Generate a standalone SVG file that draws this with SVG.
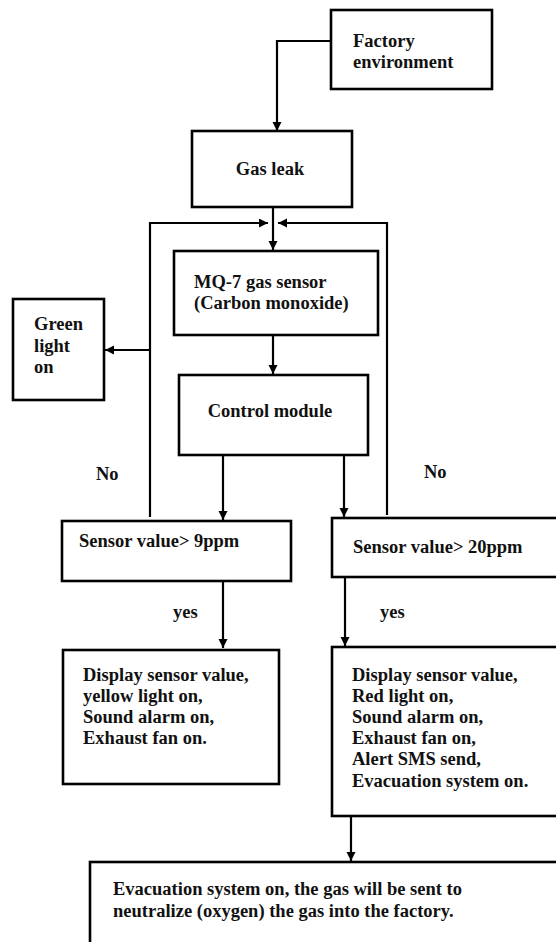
<svg xmlns="http://www.w3.org/2000/svg" width="556" height="942" viewBox="0 0 556 942">
<defs>
<style>
.box{fill:#fff;stroke:#000;stroke-width:2.6}
.ln{fill:none;stroke:#000;stroke-width:2.2}
.t{font-family:"Liberation Serif","Times New Roman",serif;font-weight:bold;font-size:18.5px;fill:#111}
</style>
<marker id="ah" markerUnits="userSpaceOnUse" markerWidth="10" markerHeight="10" refX="9" refY="4.5" orient="auto">
<path d="M0,0 L9,4.5 L0,9 z" fill="#000"/>
</marker>
</defs>
<rect width="556" height="942" fill="#fff"/>
<g id="connectors">
<polyline class="ln" points="331,41 277,41 277,131" marker-end="url(#ah)"/>
<line class="ln" x1="273" y1="207" x2="273" y2="250" marker-end="url(#ah)"/>
<polyline class="ln" points="150,517 150,223 268,223" marker-end="url(#ah)"/>
<polyline class="ln" points="387,515 387,223 278,223" marker-end="url(#ah)"/>
<line class="ln" x1="150" y1="350" x2="105" y2="350" marker-end="url(#ah)"/>
<line class="ln" x1="273" y1="335" x2="273" y2="374" marker-end="url(#ah)"/>
<line class="ln" x1="223" y1="456" x2="223" y2="520" marker-end="url(#ah)"/>
<line class="ln" x1="344" y1="456" x2="344" y2="517" marker-end="url(#ah)"/>
<line class="ln" x1="223" y1="581" x2="223" y2="648" marker-end="url(#ah)"/>
<line class="ln" x1="345" y1="577" x2="345" y2="646" marker-end="url(#ah)"/>
<line class="ln" x1="351" y1="816" x2="351" y2="861" marker-end="url(#ah)"/>
<text class="t" x="96" y="480">No</text>
<text class="t" x="424" y="478">No</text>
<text class="t" x="173" y="618">yes</text>
<text class="t" x="380" y="618">yes</text>
</g>
<g id="factory">
<rect class="box" x="331" y="10" width="161" height="79"/>
<text class="t" x="353" y="47">Factory</text>
<text class="t" x="353" y="68">environment</text>
</g>
<g id="gasleak">
<rect class="box" x="192" y="131" width="160" height="76"/>
<text class="t" x="270" y="175" text-anchor="middle">Gas leak</text>
</g>
<g id="sensor">
<rect class="box" x="174" y="251" width="204" height="84"/>
<text class="t" x="194" y="288">MQ-7 gas sensor</text>
<text class="t" x="194" y="309">(Carbon monoxide)</text>
</g>
<g id="green">
<rect class="box" x="13" y="299" width="91" height="101"/>
<text class="t" x="34" y="330">Green</text>
<text class="t" x="34" y="352">light</text>
<text class="t" x="34" y="373">on</text>
</g>
<g id="control">
<rect class="box" x="179" y="375" width="189" height="80"/>
<text class="t" x="270" y="417" text-anchor="middle">Control module</text>
</g>
<g id="check9">
<rect class="box" x="62" y="521" width="229" height="60"/>
<text class="t" x="79" y="547">Sensor value&gt; 9ppm</text>
</g>
<g id="check20">
<rect class="box" x="332" y="518" width="230" height="59"/>
<text class="t" x="353" y="553">Sensor value&gt; 20ppm</text>
</g>
<g id="action9">
<rect class="box" x="63" y="650" width="216" height="134"/>
<text class="t" x="83" y="681">Display sensor value,</text>
<text class="t" x="83" y="702">yellow light on,</text>
<text class="t" x="83" y="723">Sound alarm on,</text>
<text class="t" x="83" y="744">Exhaust fan on.</text>
</g>
<g id="action20">
<rect class="box" x="332" y="647" width="230" height="169"/>
<text class="t" x="352" y="681">Display sensor value,</text>
<text class="t" x="352" y="702">Red light on,</text>
<text class="t" x="352" y="723">Sound alarm on,</text>
<text class="t" x="352" y="744">Exhaust fan on,</text>
<text class="t" x="352" y="765">Alert SMS send,</text>
<text class="t" x="352" y="787">Evacuation system on.</text>
</g>
<g id="evacuation">
<rect class="box" x="90" y="862" width="472" height="90"/>
<text class="t" x="113" y="895">Evacuation system on, the gas will be sent to</text>
<text class="t" x="113" y="917">neutralize (oxygen) the gas into the factory.</text>
</g>
</svg>
